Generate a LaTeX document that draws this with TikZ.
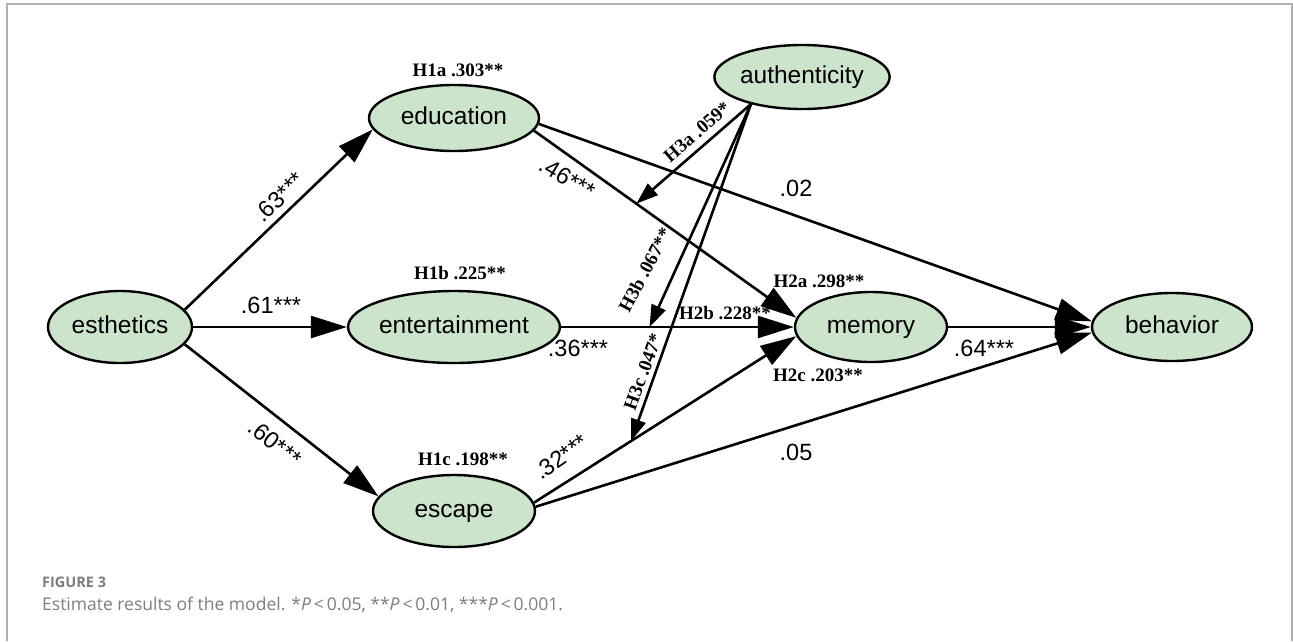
\documentclass[tikz,border=0pt]{standalone}
\usepackage{fontspec}
\usetikzlibrary{shapes.geometric,arrows.meta,calc}
\newfontfamily\arialf{Liberation Sans}
\newfontfamily\tnrf{Liberation Serif}
\newfontfamily\capf{Open Sans}
\definecolor{nodegreen}{RGB}{205,228,204}
\definecolor{framegray}{RGB}{175,175,175}
\definecolor{capgray}{RGB}{125,125,125}
\begin{document}
\begin{tikzpicture}[x=1pt,y=-1pt,
  latent/.style={ellipse,draw=black,fill=nodegreen,line width=2.4pt,inner sep=0pt,
     text height=18pt,text depth=5pt,
     font=\arialf\fontsize{24.5}{28}\selectfont},
  semedge/.style={line width=2.6pt,-{Triangle[length=36pt,width=22pt]}},
  modedge/.style={line width=2.6pt,-{Triangle[length=22pt,width=15pt]}},
  coef/.style={font=\arialf\fontsize{23.5}{26}\selectfont,inner sep=0pt},
  hyp/.style={font=\tnrf\bfseries\fontsize{19}{22}\selectfont,inner sep=0pt},
  captext/.style={anchor=west,inner sep=0pt,text=capgray}]
\useasboundingbox (0,0) rectangle (1293,641);
\draw[framegray,line width=1.2pt] (7,641) -- (7,4) -- (1292,4) -- (1292,641);

% nodes
\node[latent,minimum width=144pt,minimum height=72pt] (est) at (120,327) {esthetics};
\node[latent,minimum width=170pt,minimum height=66pt] (edu) at (454,118) {education};
\node[latent,minimum width=162pt,minimum height=72pt] (ent) at (454,327) {entertainment};
\node[latent,minimum width=162pt,minimum height=72pt] (esc) at (454,511) {escape};
\node[latent,minimum width=170pt,minimum height=64pt] (aut) at (802,77) {authenticity};
\node[latent,minimum width=152pt,minimum height=70pt] (mem) at (871,327) {memory};
\node[latent,minimum width=160pt,minimum height=68pt] (beh) at (1172,327) {behavior};

% structural paths
\draw[semedge] (est.15) -- (edu.188);
\draw[semedge] (est.east) -- (ent.west);
\draw[semedge] (est.-15) -- (esc.169);
\draw[semedge] (edu.-9) -- (mem.173) coordinate[pos=0.39] (ia);
\draw[semedge] (ent.east) -- (mem.west) coordinate[pos=0.38] (ib);
\draw[semedge] (esc.6) -- (mem.187) coordinate[pos=0.37] (ic);
\draw[semedge] (edu.-4) -- (beh.176);
\draw[semedge] (mem.east) -- (beh.west);
\draw[semedge] (esc.3) -- (beh.184);

% moderation paths
\draw[modedge] (aut.208) -- (ia);
\draw[modedge] (aut.208) -- (ib);
\draw[modedge] (aut.208) -- (ic);

% coefficients
\node[coef,rotate=44] (c1) at (279,197) {.63***};
\node[coef] (c2) at (271,305) {.61***};
\node[coef,rotate=-39] (c3) at (275,443) {.60***};
\node[coef,rotate=-31] (c4) at (567,178) {.46***};
\node[coef] (c5) at (796,188) {.02};
\node[coef] (c6) at (578,348) {.36***};
\node[coef,rotate=35] (c7) at (561,457) {.32***};
\node[coef] (c8) at (796,452) {.05};
\node[coef] (c9) at (984,348) {.64***};

% hypothesis labels
\node[hyp] (h1a) at (458,70) {H1a .303**};
\node[hyp] (h1b) at (460,273) {H1b .225**};
\node[hyp] (h1c) at (463,459) {H1c .198**};
\node[hyp] (h2a) at (819,281) {H2a .298**};
\node[hyp] (h2b) at (725,313) {H2b .228**};
\node[hyp] (h2c) at (818,375) {H2c .203**};
\node[hyp,rotate=41] (h3a) at (697,132) {H3a .059*};
\node[hyp,rotate=62] (h3b) at (645,270) {H3b .067**};
\node[hyp,rotate=70] (h3c) at (643,372) {H3c .047*};

% caption
\node[captext,font=\capf\bfseries\fontsize{14.5}{17}\selectfont] (fig) at (42,582) {FIGURE 3};
\node[captext,font=\capf\fontsize{17.5}{21}\selectfont] (capt) at (42,605)
  {Estimate results of the model. *\textit{P}\,<\,0.05, **\textit{P}\,<\,0.01, ***\textit{P}\,<\,0.001.};
\end{tikzpicture}
\end{document}
